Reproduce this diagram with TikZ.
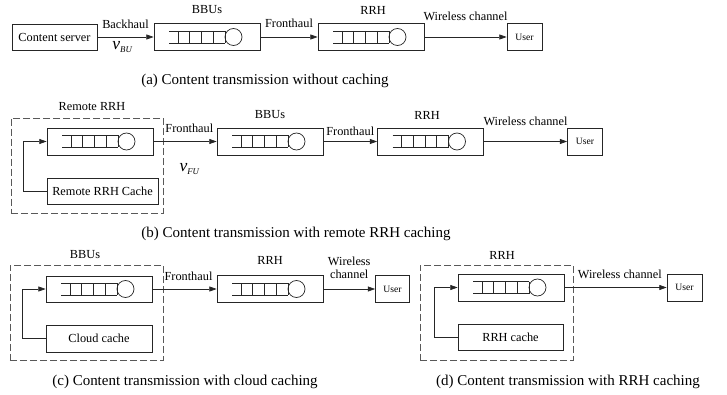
\documentclass[tikz,border=0pt]{standalone}
\usepackage{fontspec}
\setmainfont{Liberation Serif}
\usepackage{tikz}
\usetikzlibrary{positioning,arrows.meta}
\newcommand{\lblfont}{\fontsize{10.5}{11.5}\selectfont}
\newcommand{\capfont}{\fontsize{12.8}{14}\selectfont}
\newcommand{\userfont}{\fontsize{8.2}{9}\selectfont}
\newcommand{\vrate}[1]{{\fontsize{15}{15}\selectfont\itshape v}\raisebox{-0.5ex}{\fontsize{7.5}{8}\selectfont\itshape #1}}
\tikzset{
  blk/.style={draw=black!85, line width=0.6pt, minimum height=7.8mm, inner sep=1pt, font=\lblfont},
  qbox/.style={blk, minimum width=31.8mm, minimum height=8.1mm},
  cachebox/.style={blk, minimum width=31.8mm, minimum height=7.8mm},
  userbox/.style={blk, minimum width=10.5mm, minimum height=8.1mm, font=\userfont},
  grp/.style={draw=black!65, line width=0.6pt, dash pattern=on 2mm off 1mm, minimum width=45.6mm, minimum height=28.5mm},
  arr/.style={-{Triangle[length=2.2mm,width=1.5mm]}, line width=0.6pt, draw=black!85},
  lbl/.style={font=\lblfont, inner sep=0pt},
  captext/.style={font=\capfont, inner sep=0pt},
  queue/.pic={
    \draw[line width=0.6pt, black!85] (-38,-6) -- (18,-6) (-38,6) -- (18,6);
    \foreach \k in {0,...,4} \draw[line width=0.6pt, black!85] (-29+11.75*\k,-6) -- (-29+11.75*\k,6);
    \draw[line width=0.6pt, black!85] (26.5,0) circle[radius=8.5];
  }
}

\begin{document}
\begin{tikzpicture}[x=0.3mm, y=-0.3mm]
  \useasboundingbox (0,0) rectangle (727,395);

  % (a) no caching
  \node[blk, minimum width=25.5mm] (srvA) at (54.5,37) {Content server};
  \node[qbox] (bbuA) at (207,37) {};
  \node[qbox] (rrhA) at (371,37) {};
  \node[userbox] (userA) at (524.5,37) {User};
  \pic at (bbuA) {queue};
  \pic at (rrhA) {queue};
  \node[lbl] at (207,10) {BBUs};
  \node[lbl] at (373,10) {RRH};
  \draw[arr] (srvA) -- node[lbl, above=2.3mm] {Backhaul} node[lbl, below=1.3mm, xshift=-1mm] {\vrate{BU}} (bbuA);
  \draw[arr] (bbuA) -- node[lbl, above=2.6mm] {Fronthaul} (rrhA);
  \draw[arr] (rrhA) -- node[lbl, above=4.8mm] {Wireless channel} (userA);
  \node[captext] at (265,81) {(a) Content transmission without caching};

  % (b) remote RRH caching
  \node[grp] (grpB) at (87,165.5) {};
  \node[qbox] (remB) at (100,141.5) {};
  \node[cachebox, minimum width=33.3mm] (rcacheB) at (102.5,191) {Remote RRH Cache};
  \node[qbox] (bbuB) at (270,141.5) {};
  \node[qbox] (rrhB) at (430.5,141.5) {};
  \node[userbox] (userB) at (585,141.5) {User};
  \pic at (remB) {queue};
  \pic at (bbuB) {queue};
  \pic at (rrhB) {queue};
  \node[lbl] at (92,107) {Remote RRH};
  \node[lbl] at (270,115) {BBUs};
  \node[lbl] at (427,115) {RRH};
  \draw[arr] (rcacheB.west) -- ++(-23,0) |- (remB.west);
  \draw[arr] (remB) -- node[lbl, above=2.7mm, xshift=1.3mm] {Fronthaul} node[lbl, below=6.6mm, xshift=1.3mm] {\vrate{FU}} (bbuB);
  \draw[arr] (bbuB) -- node[lbl, above=1.8mm] {Fronthaul} (rrhB);
  \draw[arr] (rrhB) -- node[lbl, above=4.5mm] {Wireless channel} (userB);
  \node[captext] at (296,234) {(b) Content transmission with remote RRH caching};

  % (c) cloud caching
  \node[grp, minimum width=45.9mm] (grpC) at (86.5,312.5) {};
  \node[qbox, minimum height=7.8mm] (bbuC) at (99,289) {};
  \node[cachebox, minimum height=8.1mm] (ccacheC) at (99,338.5) {Cloud cache};
  \node[qbox] (rrhC) at (270,289) {};
  \node[userbox, minimum width=10.2mm] (userC) at (392.5,289) {User};
  \pic at (bbuC) {queue};
  \pic at (rrhC) {queue};
  \node[lbl] at (85,255) {BBUs};
  \node[lbl] at (270,260) {RRH};
  \draw[arr] (ccacheC.west) -- ++(-23,0) |- (bbuC.west);
  \draw[arr] (bbuC) -- node[lbl, above=2.4mm, xshift=1.2mm] {Fronthaul} (rrhC);
  \draw[arr] (rrhC) -- node[lbl, above=3mm, align=center] {Wireless\\channel} (userC);
  \node[captext] at (185,382) {(c) Content transmission with cloud caching};

  % (d) RRH caching
  \node[grp, minimum width=45.9mm] (grpD) at (496.5,312.5) {};
  \node[qbox] (rrhD) at (511,287.5) {};
  \node[cachebox, minimum width=31.5mm] (dcacheD) at (510.5,337) {RRH cache};
  \node[userbox] (userD) at (684.5,287.5) {User};
  \pic at (rrhD) {queue};
  \node[lbl] at (502,255) {RRH};
  \draw[arr] (dcacheD.west) -- ++(-23,0) |- (rrhD.west);
  \draw[arr] (rrhD) -- node[lbl, above=2.4mm, xshift=1.3mm] {Wireless channel} (userD);
  \node[captext] at (568,382) {(d) Content transmission with RRH caching};
\end{tikzpicture}
\end{document}
